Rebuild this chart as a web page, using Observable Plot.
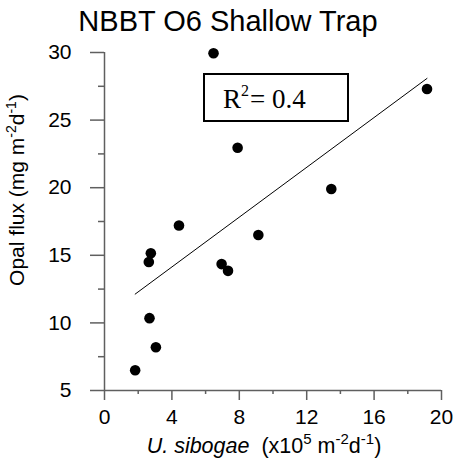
<!DOCTYPE html>
<html><head><meta charset="utf-8">
<script src="https://cdn.jsdelivr.net/npm/d3@7"></script>
<script src="https://cdn.jsdelivr.net/npm/@observablehq/plot@0.6"></script>
<style>body{margin:0;background:#fff} #chart{width:457px;height:466px}</style>
</head><body><div id="chart"></div>
<script>
const title = "NBBT O6 Shallow Trap";
const sibogae  = [6.47, 19.14, 7.9, 13.46, 4.42, 9.13, 2.75, 2.63, 6.95, 7.33, 2.67, 3.05, 1.82];
const opalFlux = [29.95, 27.3, 22.95, 19.9, 17.2, 16.5, 15.15, 14.5, 14.35, 13.85, 10.35, 8.2, 6.5];
const xMajorTicks = [0, 4, 8, 12, 16, 20];
const xMinorTicks = [2, 6, 10, 14, 18];
const yMajorTicks = [5, 10, 15, 20, 25, 30];
const yMinorTicks = [7.5, 12.5, 17.5, 22.5, 27.5];
const rSquaredLabel = "0.4";

const data = sibogae.map((x, i) => ({x, y: opalFlux[i]}));
const axisColor = "#5f5f5f";
const xMin = 0, yMin = 5;

const plot = Plot.plot({
  width: 457, height: 466,
  marginLeft: 104, marginRight: 16, marginTop: 52, marginBottom: 76,
  style: {fontFamily: "Arial, 'Liberation Sans', sans-serif", background: "white", color: "black", overflow: "visible"},
  x: {domain: [0, 20], label: null},
  y: {domain: [5, 30], label: null},
  marks: [
    Plot.ruleX([xMin], {stroke: axisColor, strokeWidth: 1.5}),
    Plot.ruleY([yMin], {stroke: axisColor, strokeWidth: 1.5}),
    Plot.ruleY(yMajorTicks, {x1: xMin, x2: xMin, insetLeft: -14, stroke: axisColor, strokeWidth: 1.5}),
    Plot.ruleY(yMinorTicks, {x1: xMin, x2: xMin, insetLeft: -6, stroke: axisColor, strokeWidth: 1.5}),
    Plot.ruleX(xMajorTicks, {y1: yMin, y2: yMin, insetBottom: -10, stroke: axisColor, strokeWidth: 1.5}),
    Plot.ruleX(xMinorTicks, {y1: yMin, y2: yMin, insetBottom: -4, stroke: axisColor, strokeWidth: 1.5}),
    Plot.axisY(yMajorTicks, {tickSize: 0, tickPadding: 33, fontSize: 21, fill: "black", label: null}),
    Plot.axisX(xMajorTicks, {tickSize: 0, tickPadding: 19, fontSize: 21, fill: "black", label: null}),
    Plot.linearRegressionY(data, {x: "x", y: "y", ci: 0, stroke: "black", strokeWidth: 1}),
    Plot.dot(data, {x: "x", y: "y", r: 5.3, fill: "black"})
  ]
});

const svg = d3.select(plot);
svg.append("text").attr("x", 228).attr("y", 31).attr("text-anchor", "middle")
  .attr("font-size", 29).attr("fill", "black").text(title);

// y-axis title
const yl = svg.append("text").attr("transform", "translate(24,190) rotate(-90)")
  .attr("text-anchor", "middle").attr("font-size", 21).attr("fill", "black");
yl.append("tspan").text("Opal flux (mg m");
yl.append("tspan").attr("font-size", 14).attr("dy", -8).text("-2");
yl.append("tspan").attr("dy", 8).text("d");
yl.append("tspan").attr("font-size", 14).attr("dy", -8).text("-1");
yl.append("tspan").attr("dy", 8).text(")");

// x-axis title
const xl = svg.append("text").attr("x", 264).attr("y", 453).attr("text-anchor", "middle")
  .attr("font-size", 21.5).attr("fill", "black");
xl.append("tspan").attr("font-style", "italic").text("U. sibogae");
xl.append("tspan").attr("dx", 12).text("(x10");
xl.append("tspan").attr("font-size", 15).attr("dy", -9).text("5");
xl.append("tspan").attr("dy", 9).text(" m");
xl.append("tspan").attr("font-size", 15).attr("dy", -9).text("-2");
xl.append("tspan").attr("dy", 9).text("d");
xl.append("tspan").attr("font-size", 15).attr("dy", -9).text("-1");
xl.append("tspan").attr("dy", 9).text(")");

// R² annotation box
svg.append("rect").attr("x", 204).attr("y", 74).attr("width", 144).attr("height", 47)
  .attr("fill", "none").attr("stroke", "black").attr("stroke-width", 2);
const rt = svg.append("text").attr("x", 223).attr("y", 108).attr("text-anchor", "start")
  .attr("font-family", "'Times New Roman', 'Liberation Serif', serif").attr("font-size", 27).attr("fill", "black");
rt.append("tspan").text("R");
rt.append("tspan").attr("font-size", 16).attr("dy", -12).text("2");
rt.append("tspan").attr("dy", 12).attr("dx", 1).text("= " + rSquaredLabel);

document.getElementById("chart").append(plot);
</script>
</body></html>
